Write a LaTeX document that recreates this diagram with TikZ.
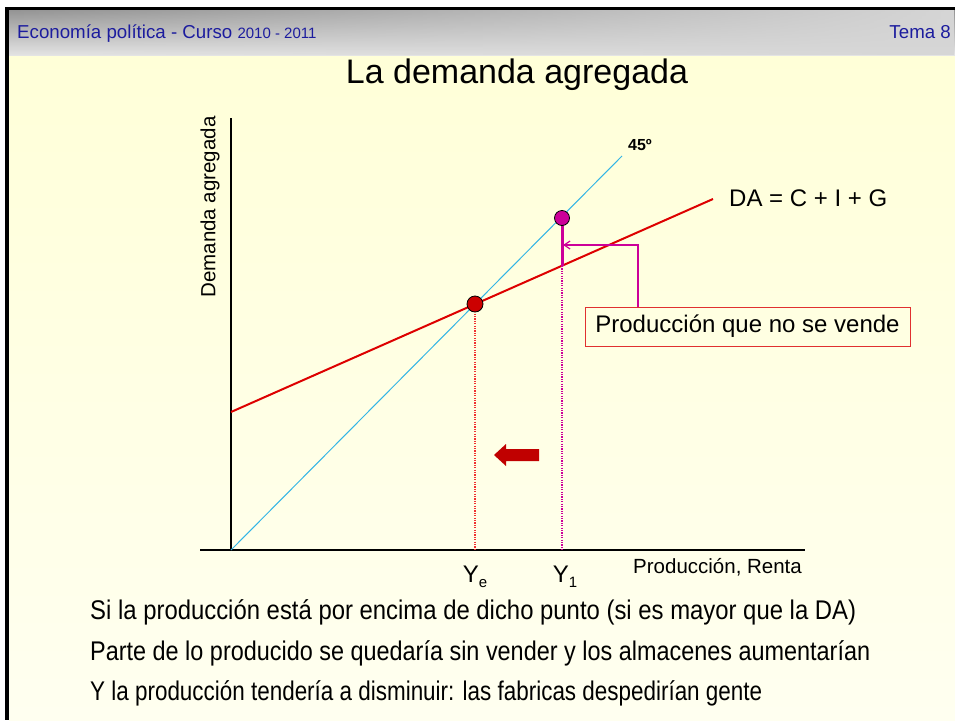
\documentclass[tikz,border=0pt]{standalone}
\usepackage{fontspec}
\setmainfont{Liberation Sans}
\usetikzlibrary{arrows.meta,fadings}
\definecolor{hdrblue}{HTML}{1C1C9E}
\definecolor{bgtop}{HTML}{FFFFD8}
\definecolor{bgbot}{HTML}{FFFFF0}
\definecolor{hdrdark}{HTML}{949494}
\definecolor{hdrlight}{HTML}{E4E4E4}
\definecolor{hdrright}{HTML}{D6D6D6}
\definecolor{cyanline}{HTML}{33B5E5}
\definecolor{daRed}{HTML}{DD0000}
\definecolor{dotRed}{HTML}{CC0000}
\definecolor{mag}{HTML}{CC0099}
\definecolor{guideRed}{HTML}{F03030}
\definecolor{arrowRed}{HTML}{C00000}
\definecolor{boxRed}{HTML}{E03030}
\newcommand{\fs}[1]{\fontsize{#1}{#1}\selectfont}
\tikzset{
  axisline/.style={line width=2pt,black},
  fortyfive/.style={cyanline,line width=1pt},
  dacurve/.style={daRed,line width=2pt},
  eqdot/.style={circle,draw=black,line width=0.8pt,inner sep=0pt},
  guide/.style={dash pattern=on 1.2pt off 1.2pt,line width=1.2pt},
  conn/.style={mag,line width=1.2pt,-{Straight Barb[length=6pt,width=8pt]}},
  lbl/.style={inner sep=0pt,text=black},
  bottomtxt/.style={inner sep=0pt,anchor=base west,text=black}
}
\begin{document}
\begin{tikzpicture}[x=1pt,y=-1pt]
\useasboundingbox (0,0) rectangle (955,720);
\fill[white] (0,0) rectangle (955,720);
% body background
\shade[top color=bgtop,bottom color=bgbot] (9,55) rectangle (955,720);
% header
\shade[top color=hdrdark,bottom color=hdrlight] (9,10) rectangle (955,55);
\fill[hdrright,path fading=west] (9,10) rectangle (955,55);
\fill[black] (5,7) rectangle (955,10);
\fill[black] (5,7) rectangle (9,720);
\node[lbl,anchor=base west,text=hdrblue] (course) at (17,38) {\fs{18.7}Economía política - Curso {\fs{15}2010 - 2011}};
\node[lbl,anchor=base east,text=hdrblue] (tema) at (951,38) {\fs{18.7}Tema 8};
% title
\node[lbl] (title) at (517,75) {\fs{34}La demanda agregada};
% axes
\coordinate (ytop) at (231,118);
\coordinate (O) at (231,550);
\coordinate (xleft) at (200,550);
\coordinate (xright) at (805,550);
\draw[axisline] (ytop) -- (O);
\draw[axisline] (xleft) -- (xright);
\node[lbl,rotate=90] (ylab) at (210,207) {\fs{20.5}Demanda agregada};
\node[lbl,anchor=base west] (xlab) at (633,573) {\fs{20.5}Producción, Renta};
% 45 degree line
\coordinate (l45end) at (622,156);
\draw[fortyfive] (O) -- (l45end);
\node[lbl] (deg) at (640,145) {\fs{16}\bfseries 45º};
% DA line
\coordinate (dastart) at (231,412);
\coordinate (daend) at (713,199);
\draw[dacurve] (dastart) -- (daend);
\node[lbl,anchor=west] (daeq) at (729,198) {\fs{24}DA = C + I + G};
% points
\coordinate (yebase) at (475,550);
\coordinate (y1base) at (562,550);
\coordinate (y1da) at (562,266);
\draw[guide,guideRed] (475,304) -- (yebase);
\draw[guide,mag] (y1da) -- (y1base);
\draw[mag,line width=3pt] (562,218) -- (y1da);
\node[eqdot,fill=dotRed,minimum size=16pt] (eq) at (475,304) {};
\node[eqdot,fill=mag,minimum size=15pt] (p1) at (562,218) {};
% box and connector
\node[draw=boxRed,line width=1pt,minimum width=325pt,minimum height=39pt,inner sep=0pt] (box) at (747.5,326.5) {\fs{24}Producción que no se vende};
\coordinate (ctip) at (563,245);
\coordinate (cx) at (638,0);
\draw[conn] (box.north -| cx) |- (ctip);
% arrow left
\fill[arrowRed] (539,449) -- (506,449) -- (506,444) -- (494,455) -- (506,466) -- (506,461) -- (539,461) -- cycle;
% axis labels
\node[lbl,anchor=base] (ye) at (475,582) {\fs{24}Y\raisebox{-5pt}{\fs{15}e}};
\node[lbl,anchor=base] (y1) at (565,582) {\fs{24}Y\raisebox{-5pt}{\fs{15}1}};
% bottom text
\node[bottomtxt] (t1) at (90,619) {\resizebox{766pt}{\height}{\fs{27}Si la producción está por encima de dicho punto (si es mayor que la DA)}};
\node[bottomtxt] (t2) at (90,660) {\resizebox{780pt}{\height}{\fs{27}Parte de lo producido se quedaría sin vender y los almacenes aumentarían}};
\node[bottomtxt] (t3) at (90,700) {\resizebox{672pt}{\height}{\fs{27}Y la producción tendería a disminuir: las fabricas despedirían gente}};
\end{tikzpicture}
\end{document}
